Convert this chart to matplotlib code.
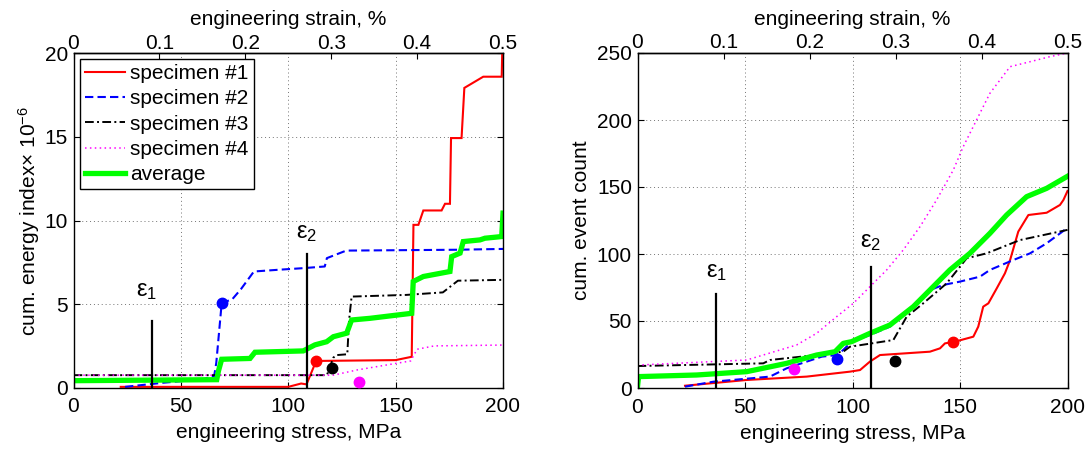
import matplotlib
matplotlib.use("Agg")
import matplotlib.pyplot as plt

plt.rcParams['font.family'] = ['Liberation Sans', 'DejaVu Sans']
plt.rcParams['mathtext.fontset'] = 'custom'
plt.rcParams['mathtext.rm'] = 'Liberation Sans'
plt.rcParams['mathtext.it'] = 'Liberation Sans'
plt.rcParams['mathtext.bf'] = 'Liberation Sans:bold'

# ---------------- data: left panel (cumulative energy index x 1e-6) -------------
stress_s1_E = [22, 100, 106, 108.5, 113, 150, 157.5, 158.3, 160.6, 162.9, 171.4, 173, 175.3, 175.8, 180.7, 182, 190.8, 199.4, 199.8]
energy_s1 = [0.05, 0.05, 0.25, 0.2, 1.6, 1.65, 1.85, 9.74, 9.74, 10.6, 10.6, 11.0, 11.0, 14.93, 14.93, 17.93, 18.6, 18.6, 21]

stress_s2_E = [24, 42, 60, 65.5, 66.5, 69, 74, 78, 84, 95, 107, 117, 118, 127, 178, 200]
energy_s2 = [0.05, 0.3, 0.5, 0.7, 1.5, 5.05, 5.3, 5.9, 6.95, 7.05, 7.15, 7.25, 7.75, 8.2, 8.25, 8.3]

stress_s3_E = [0, 118, 121, 122.5, 127.5, 128.3, 129.5, 155, 172, 175, 179, 200]
energy_s3 = [0.75, 0.75, 1.8, 1.95, 2.0, 4.0, 5.45, 5.55, 5.7, 6.0, 6.4, 6.45]

stress_s4_E = [0, 121, 132, 150, 157, 160, 168, 200]
energy_s4 = [0.75, 0.75, 1.06, 1.45, 1.6, 2.3, 2.5, 2.55]

stress_avg_E = [0, 66.7, 67.5, 69, 82.2, 84.5, 107, 112.4, 117.9, 121, 127.2, 129.5, 138.1, 157.5, 158.2,
                162.9, 175.3, 176.1, 180, 181.5, 189.3, 191.6, 199.4, 200]
energy_avg = [0.42, 0.48, 1.0, 1.7, 1.75, 2.12, 2.2, 2.56, 2.75, 3.05, 3.26, 4.05, 4.15, 4.45, 6.35,
              6.65, 6.95, 7.84, 8.05, 8.74, 8.84, 8.94, 9.04, 10.44]

mark_stress_E = [113, 69, 120.2, 133.1]
mark_energy = [1.6, 5.05, 1.2, 0.32]

# ---------------- data: right panel (cumulative event count) -------------
stress_s1_N = [22.1, 50.8, 78.7, 98.8, 103.5, 108.1, 112.8, 136.0, 140.7, 143, 147.7, 156.2, 158.5, 160.8,
               163.2, 167.1, 170.9, 173.3, 177.1, 181.8, 190.3, 196.5, 198.1, 200]
count_s1 = [1.7, 6.0, 8.5, 12.2, 13.4, 19.7, 24.6, 27.1, 29.6, 33.3, 34.6, 38.3, 45.8, 60.7,
            63.2, 74.4, 85.6, 95.5, 116.7, 129.1, 130.8, 136.6, 140.3, 147]

stress_s2_N = [22.1, 35.3, 61.6, 69.4, 74.0, 85.7, 92.6, 95.7, 99.6, 108.1, 117.4, 126.7, 136, 142.2,
               150, 159.3, 163.9, 174.8, 182.6, 190.3, 200]
count_s2 = [1.0, 4.7, 8.5, 14.7, 17.2, 23.4, 24.6, 28.4, 34.6, 39.5, 45.8, 58.2, 73.1, 76.9,
            79.4, 83.1, 88.1, 95.5, 100.5, 108, 119.5]

stress_s3_N = [0, 58.5, 61.6, 83.3, 95.7, 98.8, 119, 125.2, 132.9, 143.8, 153.1, 162.4, 170.2, 177.9, 200]
count_s3 = [16.4, 18.4, 20.9, 24.6, 27.1, 30.8, 35.8, 53.2, 63.2, 78.1, 96.8, 100.5, 105.5, 110.4, 118]

stress_s4_N = [0, 50.8, 74, 83.3, 92.6, 100.4, 108.1, 115.9, 123.6, 131.4, 139.1, 146.9, 151.5, 157.7,
               163.9, 173.3, 182.6, 191.9, 200]
count_s4 = [17.1, 20.9, 32.1, 40.8, 53.2, 63.2, 75.6, 88.1, 103, 120.4, 140.3, 162.7, 180.1, 200,
            219.9, 239.8, 243.5, 247.3, 250]

stress_avg_N = [0, 0.5, 27.5, 50.8, 69.4, 83.3, 91.9, 95.7, 99.6, 108.1, 117.4, 128.3, 136, 145.3,
                154.6, 163.9, 171.7, 181, 190.3, 200]
count_avg = [1, 8.5, 9.7, 12.2, 18.4, 24.6, 27.1, 33.3, 34.6, 40.8, 47.0, 60.7, 73.1, 88.1,
             100.5, 115.4, 129.1, 142.8, 149, 158]

mark_stress_N = [146.9, 92.9, 119.8, 72.9]
mark_count = [34.1, 21.4, 20.2, 14.2]

# epsilon markers
eps_stress = [36.5, 108.5]
eps_top_E = [4, 8]
eps_top_N = [70, 90]
eps_labels = [r'$\varepsilon_1$', r'$\varepsilon_2$']

series_labels = ['specimen #1', 'specimen #2', 'specimen #3', 'specimen #4', 'average']
stress_ticks = [0, 50, 100, 150, 200]
strain_ticks = [0, 0.1, 0.2, 0.3, 0.4, 0.5]
strain_tick_labels = ['0', '0.1', '0.2', '0.3', '0.4', '0.5']
energy_ticks = [0, 5, 10, 15, 20]
count_ticks = [0, 50, 100, 150, 200, 250]

colors = ['#ff0000', '#0000ff', '#000000', '#ff00ff', '#00ff00']
styles = [dict(ls='-', lw=1.5),
          dict(ls=(0, (4, 2)), lw=1.5),
          dict(ls=(0, (4.5, 1.7, 1, 1.7)), lw=1.4),
          dict(ls=(0, (1, 2.2)), lw=1.1),
          dict(ls='-', lw=3.8)]

FS = 15

fig = plt.figure(figsize=(10.89, 4.49), dpi=100)
ax1 = fig.add_axes([73.5 / 1089, 1 - 387.7 / 449, 429.5 / 1089, 334.4 / 449])
ax2 = fig.add_axes([637.5 / 1089, 1 - 388 / 449, 430 / 1089, 335 / 449])


def style_axes(ax, yticks, ylim, ylabel, labelpad):
    ax.set_xlim(0, 200)
    ax.set_ylim(*ylim)
    ax.set_xticks(stress_ticks)
    ax.set_yticks(yticks)
    ax.tick_params(direction='in', length=4, width=0.8, labelsize=FS, top=False, right=True, pad=4)
    ax.tick_params(axis='x', pad=7)
    for s in ax.spines.values():
        s.set_linewidth(1.0)
    ax.grid(True, linestyle=(0, (1, 3)), color='0.45', linewidth=0.7)
    ax.set_xlabel('engineering stress, MPa', fontsize=FS, labelpad=5)
    ax.set_ylabel(ylabel, fontsize=FS, labelpad=labelpad)
    sec = ax.secondary_xaxis('top', functions=(lambda x: x / 400.0, lambda s: s * 400.0))
    sec.set_xticks(strain_ticks)
    sec.set_xticklabels(strain_tick_labels)
    sec.tick_params(direction='in', length=4, width=0.8, labelsize=FS, pad=0.5)
    sec.set_xlabel('engineering strain, %', fontsize=FS, labelpad=6)
    sec.spines['top'].set_linewidth(1.0)


# left panel
xsE = [stress_s1_E, stress_s2_E, stress_s3_E, stress_s4_E, stress_avg_E]
ysE = [energy_s1, energy_s2, energy_s3, energy_s4, energy_avg]
lines = []
for x, y, c, st, lab in zip(xsE, ysE, colors, styles, series_labels):
    ln, = ax1.plot(x, y, color=c, label=lab, solid_joinstyle='miter', **st)
    lines.append(ln)
for xs, ys, c in zip(mark_stress_E, mark_energy, colors[:4]):
    ax1.plot([xs], [ys], 'o', color=c, markersize=7.5, zorder=5)
for xe, te, lab, dx, yt in zip(eps_stress, eps_top_E, eps_labels, [-2.5, 0], [5.1, 8.6]):
    ax1.plot([xe, xe], [0, te], color='k', lw=1.6, zorder=4)
    ax1.text(xe + dx, yt, lab, fontsize=FS + 2, ha='center', va='bottom')
style_axes(ax1, energy_ticks, (0, 20), 'cum. energy index× 10$^{-6}$', 1.5)
leg = ax1.legend(handles=lines, loc='upper left', bbox_to_anchor=(0.015, 0.983), borderaxespad=0,
                 fontsize=FS, fancybox=False, framealpha=1, edgecolor='k', handlelength=1.9,
                 handletextpad=0.25, labelspacing=0.3, borderpad=0.25)
leg.get_frame().set_linewidth(1.0)

# right panel
xsN = [stress_s1_N, stress_s2_N, stress_s3_N, stress_s4_N, stress_avg_N]
ysN = [count_s1, count_s2, count_s3, count_s4, count_avg]
for x, y, c, st in zip(xsN, ysN, colors, styles):
    ax2.plot(x, y, color=c, **st)
for xs, ys, c in zip(mark_stress_N, mark_count, colors[:4]):
    ax2.plot([xs], [ys], 'o', color=c, markersize=7.5, zorder=5)
for xe, te, lab, yt in zip(eps_stress, eps_top_N, eps_labels, [78, 101]):
    ax2.plot([xe, xe], [0, te], color='k', lw=1.6, zorder=4)
    ax2.text(xe, yt, lab, fontsize=FS + 2, ha='center', va='bottom')
style_axes(ax2, count_ticks, (0, 250), 'cum. event count', 4)

fig.savefig('out.png', dpi=100)
